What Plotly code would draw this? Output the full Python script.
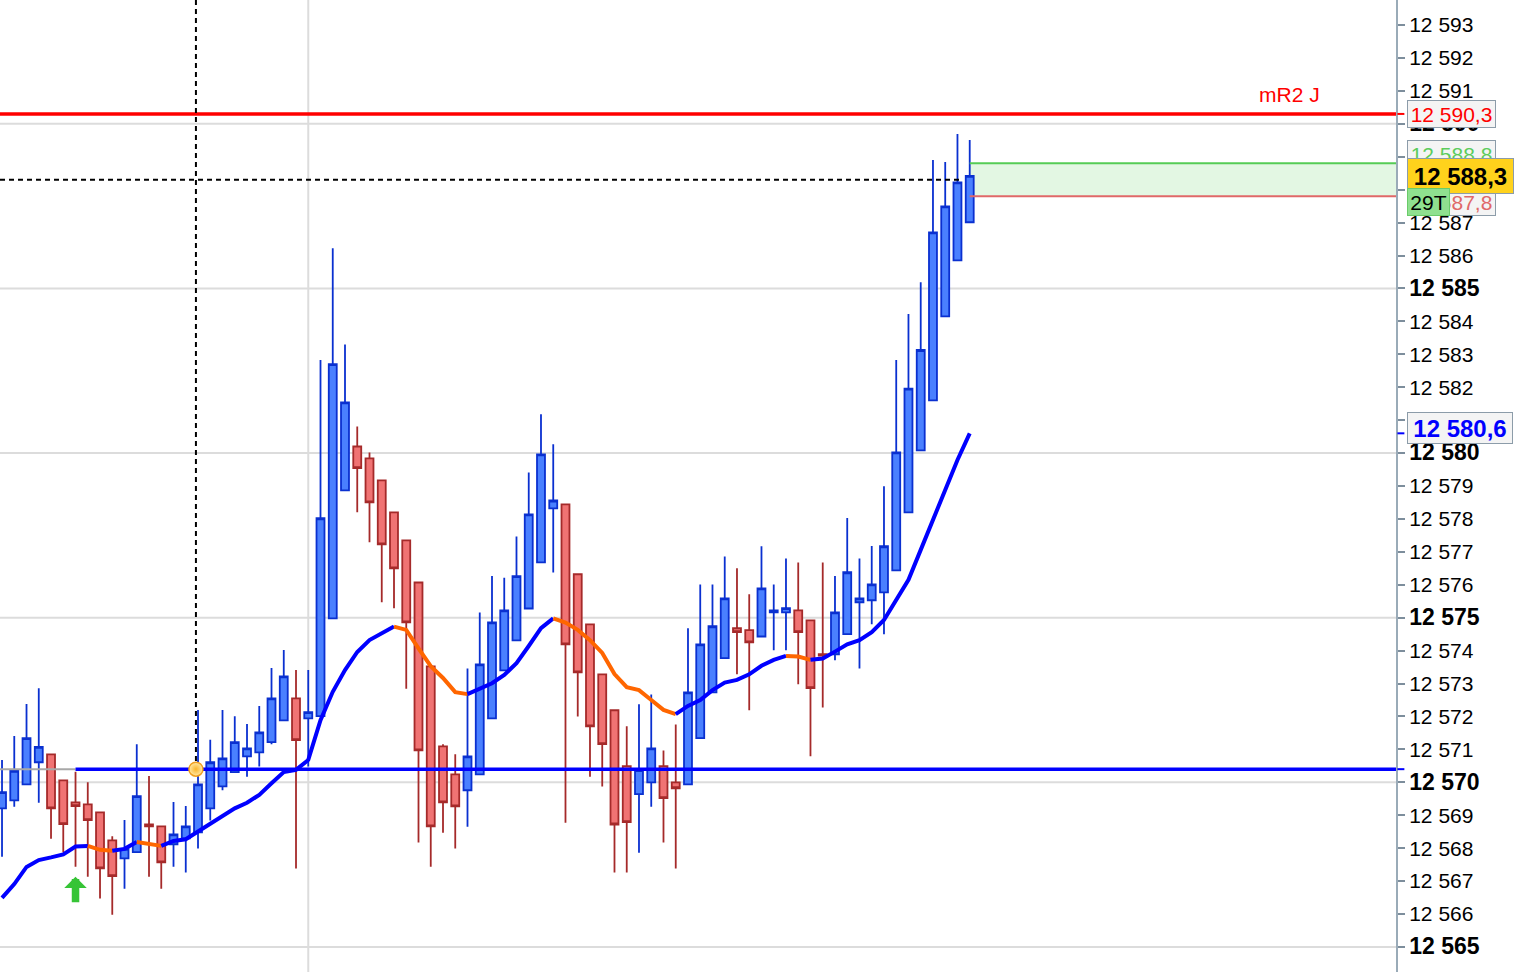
import plotly.graph_objects as go

# ---------------- data ----------------
idx = list(range(80))
opens = [12569.21, 12569.45, 12569.94, 12570.61, 12570.85, 12570.06, 12569.39, 12569.33, 12569.09, 12568.24,
         12567.69, 12567.88, 12568.72, 12568.66, 12568.12, 12568.30, 12568.48, 12569.21, 12569.88, 12570.31,
         12570.79, 12570.91, 12571.22, 12571.88, 12572.55, 12571.94, 12572.01, 12574.98, 12578.87, 12580.20,
         12579.84, 12579.17, 12578.20, 12577.35, 12576.07, 12573.52, 12571.09, 12570.24, 12569.76, 12570.24,
         12571.94, 12573.40, 12574.31, 12575.28, 12576.68, 12578.32, 12578.44, 12576.32, 12574.80, 12573.28,
         12572.19, 12570.49, 12569.64, 12570.00, 12570.49, 12570.00, 12569.94, 12571.34, 12572.73, 12573.77,
         12574.68, 12574.62, 12574.43, 12575.16, 12575.16, 12575.22, 12574.92, 12573.89, 12573.89, 12574.50,
         12575.47, 12575.53, 12575.77, 12576.44, 12578.20, 12580.08, 12581.60, 12584.15, 12585.85, 12587.01]
highs = [12570.68, 12571.41, 12572.38, 12572.86, 12570.85, 12570.06, 12570.32, 12570.00, 12569.09, 12568.36,
         12568.86, 12571.16, 12570.19, 12568.66, 12569.40, 12569.28, 12572.20, 12571.29, 12572.20, 12572.01,
         12571.77, 12572.32, 12573.47, 12574.02, 12573.41, 12573.41, 12582.83, 12586.22, 12583.30, 12580.81,
         12580.02, 12579.17, 12578.20, 12577.35, 12576.07, 12573.52, 12571.16, 12570.85, 12573.46, 12575.16,
         12576.27, 12576.21, 12577.47, 12579.41, 12581.18, 12580.27, 12578.44, 12576.32, 12574.80, 12573.28,
         12572.19, 12571.70, 12572.37, 12572.67, 12570.97, 12571.76, 12574.68, 12576.01, 12576.01, 12576.86,
         12576.50, 12575.71, 12577.17, 12576.01, 12576.80, 12576.68, 12574.92, 12576.68, 12576.27, 12578.03,
         12576.80, 12577.18, 12578.99, 12582.83, 12584.22, 12585.19, 12588.90, 12588.84, 12589.69, 12589.51]
lows = [12567.74, 12569.26, 12569.94, 12569.38, 12568.29, 12567.88, 12567.44, 12567.13, 12566.47, 12565.98,
        12566.77, 12567.88, 12567.13, 12566.77, 12567.44, 12567.26, 12567.99, 12568.84, 12569.76, 12570.31,
        12570.17, 12570.48, 12571.16, 12571.88, 12567.38, 12570.48, 12572.01, 12574.98, 12578.87, 12578.20,
        12577.29, 12575.47, 12575.29, 12572.84, 12568.17, 12567.44, 12568.47, 12567.99, 12568.65, 12570.24,
        12571.94, 12573.40, 12574.31, 12575.28, 12576.68, 12576.37, 12568.77, 12572.00, 12570.17, 12569.87,
        12567.26, 12567.26, 12567.86, 12569.26, 12568.17, 12567.38, 12569.94, 12571.34, 12572.73, 12573.77,
        12573.28, 12572.19, 12574.43, 12574.01, 12574.01, 12572.98, 12570.79, 12572.27, 12573.71, 12574.50,
        12573.46, 12574.80, 12574.50, 12576.44, 12578.20, 12580.08, 12581.60, 12584.15, 12585.85, 12587.01]
closes = [12569.70, 12570.35, 12571.34, 12571.08, 12569.21, 12568.73, 12569.28, 12568.85, 12567.39, 12567.15,
          12567.98, 12569.58, 12568.66, 12567.57, 12568.42, 12568.66, 12569.94, 12570.61, 12570.73, 12571.22,
          12571.03, 12571.52, 12572.55, 12573.22, 12571.28, 12572.13, 12578.02, 12582.70, 12581.54, 12579.54,
          12578.50, 12577.23, 12576.50, 12574.86, 12570.97, 12568.66, 12569.39, 12569.27, 12570.79, 12573.58,
          12574.86, 12575.22, 12576.26, 12578.14, 12579.96, 12578.56, 12574.19, 12573.34, 12571.70, 12571.16,
          12568.72, 12568.79, 12570.37, 12571.03, 12569.52, 12569.82, 12572.73, 12574.19, 12574.74, 12575.59,
          12574.56, 12574.25, 12575.89, 12575.22, 12575.29, 12574.56, 12572.86, 12573.85, 12575.16, 12576.38,
          12575.59, 12576.01, 12577.17, 12580.02, 12581.96, 12583.13, 12586.70, 12587.49, 12588.22, 12588.42]
ma = [12566.49, 12566.91, 12567.43, 12567.64, 12567.72, 12567.81, 12568.05, 12568.07, 12567.95, 12567.92,
      12567.98, 12568.19, 12568.13, 12568.07, 12568.22, 12568.27, 12568.50, 12568.73, 12568.98, 12569.21,
      12569.38, 12569.62, 12569.97, 12570.31, 12570.38, 12570.68, 12571.89, 12572.75, 12573.41, 12573.96,
      12574.32, 12574.54, 12574.73, 12574.63, 12574.07, 12573.53, 12573.17, 12572.74, 12572.68, 12572.83,
      12573.01, 12573.26, 12573.62, 12574.14, 12574.68, 12574.98, 12574.85, 12574.63, 12574.32, 12573.93,
      12573.29, 12572.89, 12572.80, 12572.50, 12572.20, 12572.07, 12572.32, 12572.50, 12572.80, 12573.03,
      12573.11, 12573.28, 12573.54, 12573.72, 12573.84, 12573.82, 12573.72, 12573.76, 12573.97, 12574.19,
      12574.32, 12574.56, 12574.93, 12575.54, 12576.15, 12577.06, 12577.97, 12578.93, 12579.79, 12580.60]

y_tick_values = list(range(12565, 12594))
major_levels = [12565, 12570, 12575, 12580, 12585, 12590]
session_index = 25

level_r2 = 12590.3
level_r2_text = "mR2 J"
level_support = 12570.4
level_support_start = 6
cross_index = 15.83
last_price = 12588.3
bid_price = 12588.8
ask_price = 12587.8
ma_last = 12580.6
tick_count_text = "29T"
arrow_index = 6
arrow_price = 12567.13

# ---------------- layout constants ----------------
X_RANGE = [-0.165, 113.8]
Y_RANGE = [12564.24, 12593.76]
FONT = "Liberation Sans, Arial, sans-serif"
BLUE = "#0000ff"
ORANGE = "#ff6600"


def fmt(v, dec=None):
    if dec is None:
        s = f"{int(v):,}".replace(",", " ")
    else:
        s = f"{v:,.{dec}f}".replace(",", " ").replace(".", ",")
    return s


fig = go.Figure()

# candles
fig.add_trace(go.Candlestick(
    x=idx, open=opens, high=highs, low=lows, close=closes,
    increasing=dict(line=dict(color="#0a30d0", width=1.8), fillcolor="#4a80ff"),
    decreasing=dict(line=dict(color="#a52a2a", width=1.8), fillcolor="#f07373"),
    whiskerwidth=0, showlegend=False, hoverinfo="skip"))

# moving average, coloured by direction
segments = []
cur = None
start = 0
for i in range(1, len(ma)):
    up = ma[i] >= ma[i - 1]
    if cur is None:
        cur = up
        start = i - 1
    elif up != cur:
        segments.append((start, i - 1, cur))
        start = i - 1
        cur = up
segments.append((start, len(ma) - 1, cur))
for s, e, up in segments:
    fig.add_trace(go.Scatter(x=idx[s:e + 1], y=ma[s:e + 1], mode="lines",
                             line=dict(color=BLUE if up else ORANGE, width=4),
                             showlegend=False, hoverinfo="skip"))

# support level (grey before its origin, blue after)
fig.add_trace(go.Scatter(x=[X_RANGE[0], level_support_start], y=[level_support] * 2, mode="lines",
                         line=dict(color="#a8a8a8", width=2), showlegend=False, hoverinfo="skip"))
fig.add_trace(go.Scatter(x=[level_support_start, X_RANGE[1]], y=[level_support] * 2, mode="lines",
                         line=dict(color=BLUE, width=3.5), showlegend=False, hoverinfo="skip"))

# R2 level
fig.add_trace(go.Scatter(x=X_RANGE, y=[level_r2] * 2, mode="lines",
                         line=dict(color="#ff0000", width=3.5), showlegend=False, hoverinfo="skip"))

# crosshair / last price dashed lines
fig.add_trace(go.Scatter(x=[cross_index, cross_index], y=[Y_RANGE[1], level_support], mode="lines",
                         line=dict(color="black", width=2, dash="5px,4px"), showlegend=False, hoverinfo="skip"))
fig.add_trace(go.Scatter(x=[X_RANGE[0], idx[-1] - 0.6], y=[last_price] * 2, mode="lines",
                         line=dict(color="black", width=2, dash="5px,4px"), showlegend=False, hoverinfo="skip"))

# bid / ask box borders
fig.add_trace(go.Scatter(x=[idx[-1], X_RANGE[1]], y=[bid_price] * 2, mode="lines",
                         line=dict(color="#55cc55", width=2), showlegend=False, hoverinfo="skip"))
fig.add_trace(go.Scatter(x=[idx[-1], X_RANGE[1]], y=[ask_price] * 2, mode="lines",
                         line=dict(color="#e06868", width=2), showlegend=False, hoverinfo="skip"))

# cross dot
fig.add_trace(go.Scatter(x=[cross_index], y=[level_support], mode="markers",
                         marker=dict(size=14, color="#ffe9a8", line=dict(color="#f0a020", width=1.5),
                                     gradient=dict(type="radial", color="#f9b52c")),
                         showlegend=False, hoverinfo="skip"))

shapes = []
for lv in major_levels:
    shapes.append(dict(type="line", xref="paper", x0=0, x1=1, yref="y", y0=lv, y1=lv,
                       line=dict(color="#dcdcdc", width=2), layer="below"))
shapes.append(dict(type="line", xref="x", x0=session_index, x1=session_index, yref="paper", y0=0, y1=1,
                   line=dict(color="#dcdcdc", width=2), layer="below"))
shapes.append(dict(type="rect", xref="x", x0=idx[-1], x1=X_RANGE[1], yref="y", y0=ask_price, y1=bid_price,
                   fillcolor="#e3f7e3", line=dict(width=0), layer="below"))
# coloured marks on the price axis
for val, col in [(level_r2, "#ff0000"), (ma_last, BLUE), (level_support, BLUE)]:
    shapes.append(dict(type="line", xref="paper", x0=1.001, x1=1.006, yref="y", y0=val, y1=val,
                       line=dict(color=col, width=2)))

XL = 1407 / 1396.0
annotations = [
    dict(text=level_r2_text, xref="paper", x=1, xshift=-74, xanchor="right", yref="y", y=level_r2,
         yanchor="bottom", yshift=6, showarrow=False, font=dict(family=FONT, size=21, color="#ff0000")),
    dict(text=fmt(level_r2, 1), xref="paper", x=XL, xanchor="left", yref="y", y=level_r2, yanchor="middle",
         showarrow=False, font=dict(family=FONT, size=21, color="#ff0000"), bgcolor="#f4f4f4",
         bordercolor="#8c9ca9", borderwidth=1, borderpad=1, width=85, height=24),
    dict(text=fmt(bid_price, 1), xref="paper", x=XL, xanchor="left", yref="y", y=bid_price, yanchor="middle",
         yshift=9, showarrow=False, font=dict(family=FONT, size=21, color="#5ccc5c"), bgcolor="#f4f4f4",
         bordercolor="#8c9ca9", borderwidth=1, borderpad=1, width=85, height=24),
    dict(text=fmt(ask_price, 1), xref="paper", x=XL, xanchor="left", yref="y", y=ask_price, yanchor="middle",
         yshift=-6, showarrow=False, font=dict(family=FONT, size=21, color="#e06868"), bgcolor="#f4f4f4",
         bordercolor="#8c9ca9", borderwidth=1, borderpad=1, width=85, height=24),
    dict(text="<b>" + fmt(last_price, 1) + "</b>", xref="paper", x=XL, xanchor="left", yref="y", y=last_price,
         yanchor="middle", yshift=4, showarrow=False, font=dict(family=FONT, size=24, color="black"),
         bgcolor="#ffd21c", bordercolor="#8c9ca9", borderwidth=1, borderpad=1, width=103, height=32),
    dict(text=tick_count_text, xref="paper", x=XL, xanchor="left", yref="y", y=ask_price, yanchor="middle",
         yshift=-6, showarrow=False, font=dict(family=FONT, size=21, color="black"), bgcolor="#8fe08f",
         bordercolor="#6acb6a", borderwidth=1, borderpad=1, width=39, height=24),
    dict(text="<b>" + fmt(ma_last, 1) + "</b>", xref="paper", x=XL, xanchor="left", yref="y", y=ma_last,
         yanchor="middle", yshift=5, showarrow=False, font=dict(family=FONT, size=24, color=BLUE),
         bgcolor="#f4f4f4", bordercolor="#8c9ca9", borderwidth=1, borderpad=1, width=102, height=28),
    dict(text="", x=arrow_index, y=arrow_price, xref="x", yref="y", showarrow=True, ax=0, ay=27,
         arrowhead=1, arrowwidth=7.5, arrowsize=0.5, arrowcolor="#36c436", standoff=0),
]

tick_text = ['<span style="font-size:23px"><b>' + fmt(v) + "</b></span>" if v % 5 == 0 else fmt(v)
             for v in y_tick_values]

fig.update_layout(
    width=1516, height=972,
    margin=dict(l=0, r=120, t=0, b=0),
    paper_bgcolor="white", plot_bgcolor="white",
    showlegend=False, boxgap=0.35, boxgroupgap=0,
    shapes=shapes, annotations=annotations,
    xaxis=dict(range=X_RANGE, showticklabels=False, showgrid=False, zeroline=False, showline=False,
               ticks="", rangeslider=dict(visible=False), fixedrange=True),
    yaxis=dict(range=Y_RANGE, side="right", tickvals=y_tick_values, ticktext=tick_text,
               ticks="outside", ticklen=7, tickwidth=1.5, tickcolor="#7d8e9c",
               showline=True, linecolor="#9aabb8", linewidth=2, showgrid=False, zeroline=False,
               tickfont=dict(family=FONT, size=21, color="black"), automargin=False, fixedrange=True),
)

fig.write_html("out.html", config={"displayModeBar": False},
               post_script="document.body.style.margin='0';document.body.style.overflow='hidden';")
